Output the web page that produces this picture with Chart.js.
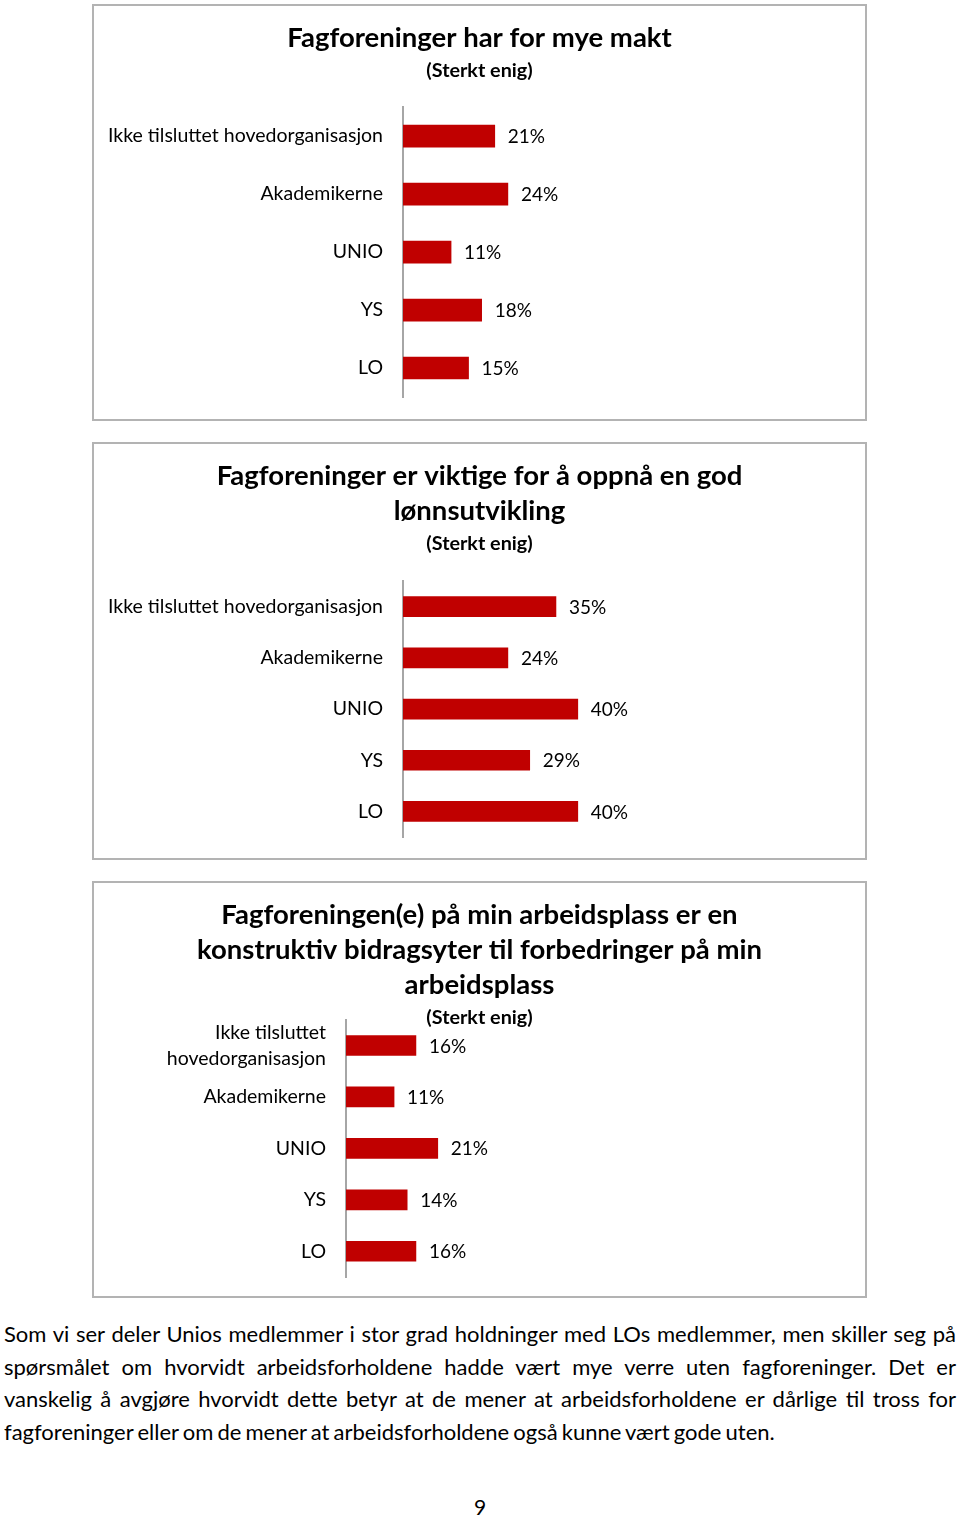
<!DOCTYPE html>
<html>
<head>
<meta charset="utf-8">
<script src="https://cdn.jsdelivr.net/npm/chart.js@4.4.0/dist/chart.umd.min.js"></script>
<style>
    body { margin: 0; background: #fff; width: 960px; height: 1517px; position: relative; font-family: Lato, sans-serif; color: #000; }
    .box { position: absolute; left: 92px; width: 775px; height: 417px; box-sizing: border-box; border: 2px solid #b3b3b3; }
    .box canvas { display: block; }
    #tekst { position: absolute; left: 4px; width: 952px; top: 1318px; font-size: 22px; word-spacing: -1.5px; line-height: 32.7px; margin: 0; }
    #tekst div { text-align: justify; text-align-last: justify; white-space: nowrap; }
    #tekst div.siste { text-align-last: left; }
    #side { position: absolute; left: 0; width: 960px; top: 1494px; text-align: center; font-size: 21px; }
</style>
</head>
<body>

<div class="box" style="top:4px"><canvas id="chart-makt" width="771" height="413"></canvas></div>
<div class="box" style="top:442px;height:418px"><canvas id="chart-lonn" width="771" height="414"></canvas></div>
<div class="box" style="top:881px"><canvas id="chart-bidrag" width="771" height="413"></canvas></div>

<div id="tekst">
    <div>Som vi ser deler Unios medlemmer i stor grad holdninger med LOs medlemmer, men skiller seg på</div>
    <div>spørsmålet om hvorvidt arbeidsforholdene hadde vært mye verre uten fagforeninger. Det er</div>
    <div>vanskelig å avgjøre hvorvidt dette betyr at de mener at arbeidsforholdene er dårlige til tross for</div>
    <div class="siste">fagforeninger eller om de mener at arbeidsforholdene også kunne vært gode uten.</div>
</div>
<div id="side">9</div>

<script>
var organisasjoner = ['Ikke tilsluttet hovedorganisasjon', 'Akademikerne', 'UNIO', 'YS', 'LO'];
var organisasjonerBrutt = [['Ikke tilsluttet', 'hovedorganisasjon'], 'Akademikerne', 'UNIO', 'YS', 'LO'];

var maktVerdier = [21, 24, 11, 18, 15];
var lonnVerdier = [35, 24, 40, 29, 40];
var bidragVerdier = [16, 11, 21, 14, 16];

var undertittel = '(Sterkt enig)';
var fontFamilie = 'Lato, sans-serif';

// 100 % tilsvarer 437 px i alle tre figurene
var pikslerPer100 = 437;
var canvasBredde = 771;


// skriver prosenten rett etter hver søyle
var verdiEtiketter = {
    id: 'verdiEtiketter',
    afterDatasetsDraw: function (chart) {
        var ctx = chart.ctx;
        var meta = chart.getDatasetMeta(0);
        ctx.save();
        ctx.font = '19px ' + fontFamilie;
        ctx.fillStyle = '#000';
        ctx.textAlign = 'left';
        ctx.textBaseline = 'middle';
        meta.data.forEach(function (bar, i) {
            ctx.fillText(chart.data.datasets[0].data[i] + '%', bar.x + 13, bar.y + 1);
        });
        ctx.restore();
    }
};


function drawSoyleChart(id, labels, verdier, tittel, oppsett) {

    var xMaks = 100 * (canvasBredde - oppsett.venstre) / pikslerPer100;

    new Chart(
        document.getElementById(id),
        {
            type: 'bar',
            data: {
                labels: labels,
                datasets: [
                    {
                        data: verdier,
                        backgroundColor: '#c00000',
                        barThickness: oppsett.tykkelse
                    }
                ]
            },
            options: {
                indexAxis: 'y',
                responsive: false,
                animation: false,
                layout: {
                    padding: { left: 0, right: 0, top: 0, bottom: oppsett.bunn }
                },
                plugins: {
                    legend: { display: false },
                    tooltip: { enabled: false },
                    title: {
                        display: true,
                        text: tittel,
                        color: '#000',
                        font: { family: fontFamilie, size: 27.5, weight: 'bold', lineHeight: 1.27 },
                        padding: { top: 15, bottom: 2.5 }
                    },
                    subtitle: {
                        display: true,
                        text: undertittel,
                        color: '#000',
                        font: { family: fontFamilie, size: 19.8, weight: 'bold', lineHeight: 1.2 },
                        padding: { top: 0, bottom: oppsett.underBunn }
                    }
                },
                scales: {
                    x: {
                        display: false,
                        min: 0,
                        max: xMaks
                    },
                    y: {
                        afterFit: function (scale) {
                            scale.width = oppsett.venstre;
                            scale.paddingTop = 0;
                            scale.paddingBottom = 0;
                        },
                        grid: { display: false, drawTicks: false },
                        border: { display: true, color: '#a6a6a6', width: 2 },
                        ticks: {
                            color: '#000',
                            padding: 20,
                            autoSkip: false,
                            font: { family: fontFamilie, size: 19.5, lineHeight: 1.34 }
                        }
                    }
                }
            },
            plugins: [verdiEtiketter]
        }
    );

}


drawSoyleChart('chart-makt', organisasjoner, maktVerdier,
    'Fagforeninger har for mye makt',
    { venstre: 309, bunn: 22, underBunn: 25, tykkelse: 22 });

drawSoyleChart('chart-lonn', organisasjoner, lonnVerdier,
    ['Fagforeninger er viktige for å oppnå en god', 'lønnsutvikling'],
    { venstre: 309, bunn: 21, underBunn: 26, tykkelse: 20 });

drawSoyleChart('chart-bidrag', organisasjonerBrutt, bidragVerdier,
    ['Fagforeningen(e) på min arbeidsplass er en', 'konstruktiv bidragsyter til forbedringer på min', 'arbeidsplass'],
    { venstre: 252, bunn: 19, underBunn: -9.3, tykkelse: 20 });
</script>
</body>
</html>
